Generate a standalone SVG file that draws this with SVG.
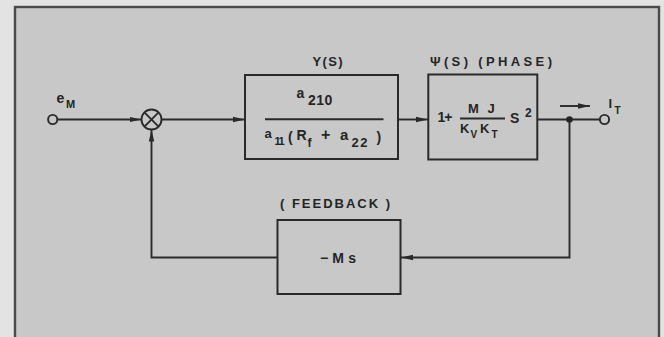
<svg xmlns="http://www.w3.org/2000/svg" width="664" height="337" viewBox="0 0 664 337">
<defs>
<style>
.ln{fill:none;stroke:#2a2a2a;stroke-width:1.9}
.bx{fill:none;stroke:#2a2a2a;stroke-width:2}
.t{font-family:"Liberation Sans",Arial,sans-serif;fill:#252525;font-weight:bold}
</style>
<marker id="ah" markerUnits="userSpaceOnUse" markerWidth="13" markerHeight="7" refX="12" refY="3.5" orient="auto">
<path d="M0,0.8 L12,3.5 L0,6.2 z" fill="#2a2a2a"/>
</marker>
</defs>
<rect x="0" y="0" width="664" height="337" fill="#e3e3e3"/>
<rect x="15" y="7" width="644" height="345" fill="#c7c8c7" stroke="#4a4a4a" stroke-width="2.4"/>

<g id="connectors">
<line class="ln" x1="57.5" y1="119.5" x2="141.5" y2="119.5" marker-end="url(#ah)"/>
<line class="ln" x1="161.5" y1="119.5" x2="245" y2="119.5" marker-end="url(#ah)"/>
<line class="ln" x1="398" y1="119.5" x2="428" y2="119.5" marker-end="url(#ah)"/>
<line class="ln" x1="537.5" y1="119.5" x2="600" y2="119.5"/>
<polyline class="ln" points="569.5,119.5 569.5,257.5 401,257.5" marker-end="url(#ah)"/>
<polyline class="ln" points="277.5,257.5 151.5,257.5 151.5,129.5" marker-end="url(#ah)"/>
<line class="ln" x1="560" y1="106" x2="590" y2="106" marker-end="url(#ah)"/>
<circle cx="569.5" cy="119.5" r="3.3" fill="#252525"/>
</g>

<g id="input">
<circle cx="52.7" cy="119.5" r="4.6" fill="none" stroke="#2a2a2a" stroke-width="1.9"/>
<text class="t" x="56.5" y="103.3" font-size="14">e</text>
<text class="t" x="66" y="108.3" font-size="11">M</text>
</g>

<g id="summer">
<circle cx="151.5" cy="119.5" r="10" fill="none" stroke="#2a2a2a" stroke-width="1.9"/>
<line class="ln" x1="144.4" y1="112.4" x2="158.6" y2="126.6"/>
<line class="ln" x1="158.6" y1="112.4" x2="144.4" y2="126.6"/>
</g>

<g id="ys">
<text class="t" x="312.5" y="66" font-size="13" textLength="30" lengthAdjust="spacing">Y(S)</text>
<rect class="bx" x="245" y="75" width="153" height="84"/>
<text class="t" x="296.5" y="98.3" font-size="14">a</text>
<text class="t" x="308" y="105" font-size="14" letter-spacing="0.5">210</text>
<line class="ln" x1="265" y1="119.3" x2="383.5" y2="119.3"/>
<text class="t" x="264.5" y="137.5" font-size="13">a</text>
<text class="t" x="274.5" y="145" font-size="11" letter-spacing="-1.5">11</text>
<text class="t" x="288" y="141.5" font-size="14">(</text>
<text class="t" x="296.5" y="140" font-size="14">R</text>
<text class="t" x="307.5" y="146.5" font-size="12">f</text>
<text class="t" x="321" y="140" font-size="16">+</text>
<text class="t" x="340" y="140" font-size="15">a</text>
<text class="t" x="351.5" y="146.5" font-size="13" letter-spacing="1.5">22</text>
<text class="t" x="376.5" y="142" font-size="14">)</text>
</g>

<g id="phase">
<text class="t" x="430" y="66" font-size="13" textLength="122" lengthAdjust="spacing">Ψ(S) (PHASE)</text>
<rect class="bx" x="428.3" y="74.5" width="109" height="85"/>
<text class="t" x="437.5" y="121.7" font-size="14" letter-spacing="-1">1+</text>
<text class="t" x="468" y="113.3" font-size="13" letter-spacing="2.5">M J</text>
<line class="ln" x1="460" y1="118.5" x2="505" y2="118.5"/>
<text class="t" x="460" y="132.7" font-size="13">K</text>
<text class="t" x="470.5" y="137.7" font-size="10">V</text>
<text class="t" x="480" y="132.7" font-size="13">K</text>
<text class="t" x="491.5" y="138.3" font-size="10">T</text>
<text class="t" x="510" y="123.3" font-size="14">S</text>
<text class="t" x="525" y="116.7" font-size="12">2</text>
</g>

<g id="output">
<circle cx="604.5" cy="119.5" r="4.6" fill="none" stroke="#2a2a2a" stroke-width="1.9"/>
<text class="t" x="608.5" y="108" font-size="13">I</text>
<text class="t" x="614.5" y="114" font-size="10">T</text>
</g>

<g id="feedback">
<text class="t" x="280" y="207.8" font-size="13" textLength="110" lengthAdjust="spacing">( FEEDBACK )</text>
<rect class="bx" x="277.5" y="220" width="123" height="74"/>
<text class="t" x="320" y="263" font-size="14" textLength="36" lengthAdjust="spacing">−Ms</text>
</g>
</svg>
